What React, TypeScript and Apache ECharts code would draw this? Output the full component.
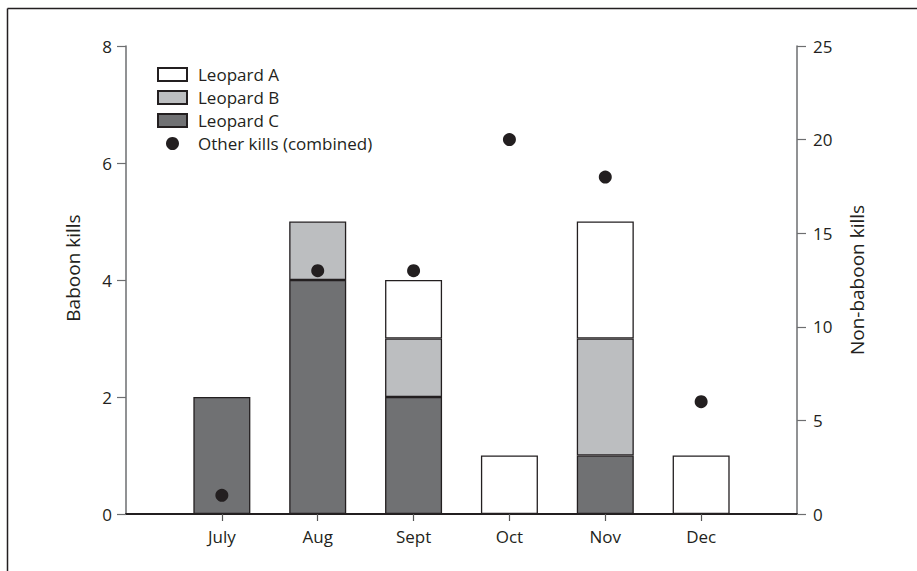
import React, { useEffect, useRef } from "react";
import * as echarts from "echarts";

const categories = ["", "July", "Aug", "Sept", "Oct", "Nov", "Dec", ""];
const leopardA = [null, null, null, 1, 1, 2, 1, null];
const leopardB = [null, null, 1, 1, null, 2, null, null];
const leopardC = [null, 2, 4, 2, null, 1, null, null];
const otherKills = [null, 1, 13, 13, 20, 18, 6, null];
const leftTicks = [0, 2, 4, 6, 8];
const rightTicks = [0, 5, 10, 15, 20, 25];

const INK = "#231f20";
const FONT = "Open Sans";
const FS = 17;
const NAME_FS = 19;

export default function App() {
  const ref = useRef<HTMLDivElement>(null);
  useEffect(() => {
    const chart = echarts.init(ref.current!, null, { renderer: "svg" });
    const barBase = {
      type: "bar",
      stack: "kills",
      barWidth: 57,
      yAxisIndex: 0,
      xAxisIndex: 0,
    };
    chart.setOption({
      animation: false,
      backgroundColor: "#ffffff",
      textStyle: { fontFamily: FONT, color: INK },
      grid: { left: 126, right: 120, top: 46, bottom: 57, containLabel: false },
      legend: {
        left: 157,
        top: 66,
        padding: 0,
        orient: "vertical",
        itemWidth: 29,
        itemHeight: 13,
        itemGap: 6,
        selectedMode: false,
        textStyle: { fontFamily: FONT, fontSize: FS, color: INK, padding: [0, 0, 0, 6] },
        data: [
          { name: "Leopard A", icon: "rect" },
          { name: "Leopard B", icon: "rect" },
          { name: "Leopard C", icon: "rect" },
          { name: "Other kills (combined)", icon: "circle", itemStyle: { borderWidth: 0, opacity: 1, color: INK } },
        ],
      },
      xAxis: {
        type: "category",
        data: categories,
        boundaryGap: false,
        axisLine: { show: true, lineStyle: { color: INK, width: 2 } },
        axisTick: {
          show: true,
          length: 7,
          interval: (_i: number, v: string) => v !== "",
          lineStyle: { color: "#555", width: 1.2 },
        },
        axisLabel: { interval: 0, fontSize: FS, color: INK, margin: 14, fontFamily: FONT },
        splitLine: { show: false },
      },
      yAxis: [
        {
          type: "value",
          min: leftTicks[0],
          max: leftTicks[leftTicks.length - 1],
          interval: 2,
          position: "left",
          name: "Baboon kills",
          nameLocation: "middle",
          nameGap: 44,
          nameTextStyle: { fontSize: NAME_FS, color: INK, fontFamily: FONT, padding: [0, 0, 0, 24] },
          axisLine: { show: true, lineStyle: { color: "#6d6e70", width: 1.5 } },
          axisTick: { show: true, length: 9, lineStyle: { color: "#6d6e70", width: 1.2 } },
          axisLabel: { fontSize: FS, color: INK, margin: 14, fontFamily: FONT },
          splitLine: { show: false },
        },
        {
          type: "value",
          min: rightTicks[0],
          max: rightTicks[rightTicks.length - 1],
          interval: 5,
          position: "right",
          name: "Non-baboon kills",
          nameLocation: "middle",
          nameGap: 50,
          nameTextStyle: { fontSize: NAME_FS, color: INK, fontFamily: FONT },
          axisLine: { show: true, lineStyle: { color: "#6d6e70", width: 1.5 } },
          axisTick: { show: true, length: 9, lineStyle: { color: "#6d6e70", width: 1.2 } },
          axisLabel: { fontSize: FS, color: INK, margin: 16, fontFamily: FONT },
          splitLine: { show: false },
        },
      ],
      series: [
        {
          ...barBase,
          name: "Leopard C",
          data: leopardC,
          itemStyle: { color: "#707173", borderColor: INK, borderWidth: 1.3 },
        },
        {
          ...barBase,
          name: "Leopard B",
          data: leopardB,
          itemStyle: { color: "#bcbec0", borderColor: INK, borderWidth: 1.3 },
        },
        {
          ...barBase,
          name: "Leopard A",
          data: leopardA,
          itemStyle: { color: "#ffffff", borderColor: INK, borderWidth: 1.3 },
        },
        {
          type: "scatter",
          name: "Other kills (combined)",
          yAxisIndex: 1,
          symbol: "circle",
          symbolSize: 13,
          data: otherKills,
          itemStyle: { color: INK, opacity: 1 },
          z: 5,
        },
      ],
      graphic: [
        { type: "line", shape: { x1: 7.5, y1: 8.5, x2: 7.5, y2: 571 }, style: { stroke: INK, lineWidth: 1.5 } },
        { type: "line", shape: { x1: 7.5, y1: 8.5, x2: 917, y2: 8.5 }, style: { stroke: INK, lineWidth: 1.5 } },
      ],
    });
    return () => chart.dispose();
  }, []);
  return (
    <div
      ref={ref}
      style={{ position: "absolute", left: 0, top: 0, width: 917, height: 571 }}
    />
  );
}
